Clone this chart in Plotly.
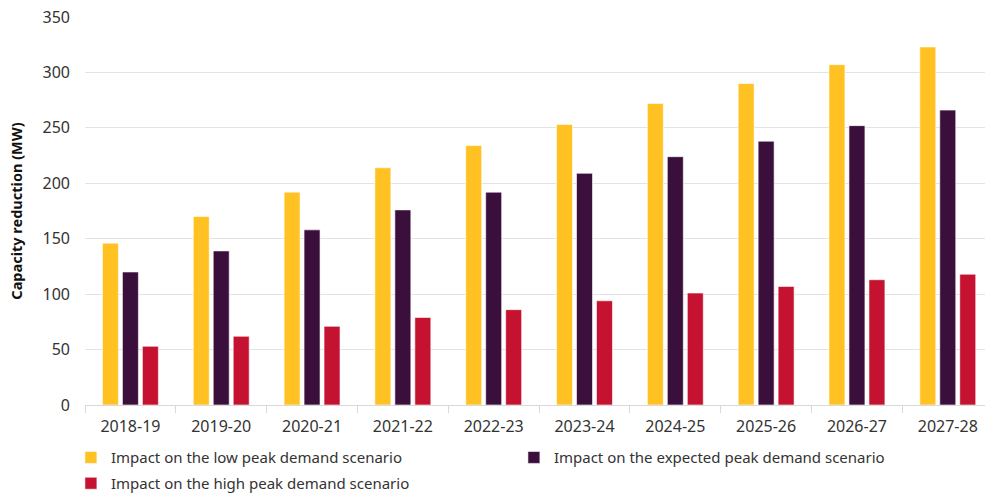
import plotly.graph_objects as go

years = ["2018-19", "2019-20", "2020-21", "2021-22", "2022-23",
         "2023-24", "2024-25", "2025-26", "2026-27", "2027-28"]
low_peak = [146, 170, 192, 214, 234, 253, 272, 290, 307, 323]
expected_peak = [120, 139, 158, 176, 192, 209, 224, 238, 252, 266]
high_peak = [53, 62, 71, 79, 86, 94, 101, 107, 113, 118]

series_names = ["Impact on the low peak demand scenario",
                "Impact on the expected peak demand scenario",
                "Impact on the high peak demand scenario"]
colors = ["#FFC222", "#3A0F3B", "#C41230"]
legend_ids = ["legend", "legend", "legend2"]

FONT = "Noto Sans"
fig = go.Figure()
for name, vals, col, lg in zip(series_names, [low_peak, expected_peak, high_peak],
                               colors, legend_ids):
    fig.add_trace(go.Bar(
        x=years, y=vals, name=name, legend=lg,
        marker=dict(color=col, line=dict(color="rgba(255,255,255,0.6)", width=1)),
    ))

legend_common = dict(
    orientation="h", xref="container", yref="container",
    xanchor="left", yanchor="top",
    entrywidth=398, entrywidthmode="pixels",
    font=dict(family=FONT, size=15, color="#333333"),
    itemwidth=30,
)

fig.update_layout(
    width=985, height=494,
    margin=dict(l=85, r=0, t=17, b=89, autoexpand=False),
    paper_bgcolor="white", plot_bgcolor="white",
    barmode="group", bargap=0.34, bargroupgap=0.2,
    font=dict(family=FONT, size=16, color="#333333"),
    showlegend=True,
    legend=dict(x=0.072, y=0.107, **legend_common),
    legend2=dict(x=0.072, y=0.0547, **legend_common),
    xaxis=dict(
        range=[-0.5, 9.41],
        showline=True, linecolor="#d9d9d9", linewidth=1,
        ticks="outside", tickson="boundaries", ticklen=7, tickcolor="#d9d9d9",
        ticklabelstandoff=7,
        showgrid=False, tickfont=dict(size=16, color="#333333"),
    ),
    yaxis=dict(
        range=[0, 350], dtick=50,
        showgrid=True, gridcolor="#e3e3e3", gridwidth=1,
        zeroline=False, showline=False, ticks="",
        ticklabelstandoff=14,
        tickfont=dict(size=16, color="#333333"),
        title=dict(text="<b>Capacity reduction (MW)</b>",
                   font=dict(size=14.5, color="#111111"), standoff=16),
    ),
)

fig.write_html("out.html", config={"displayModeBar": False},
               post_script="document.body.style.margin='0';")
